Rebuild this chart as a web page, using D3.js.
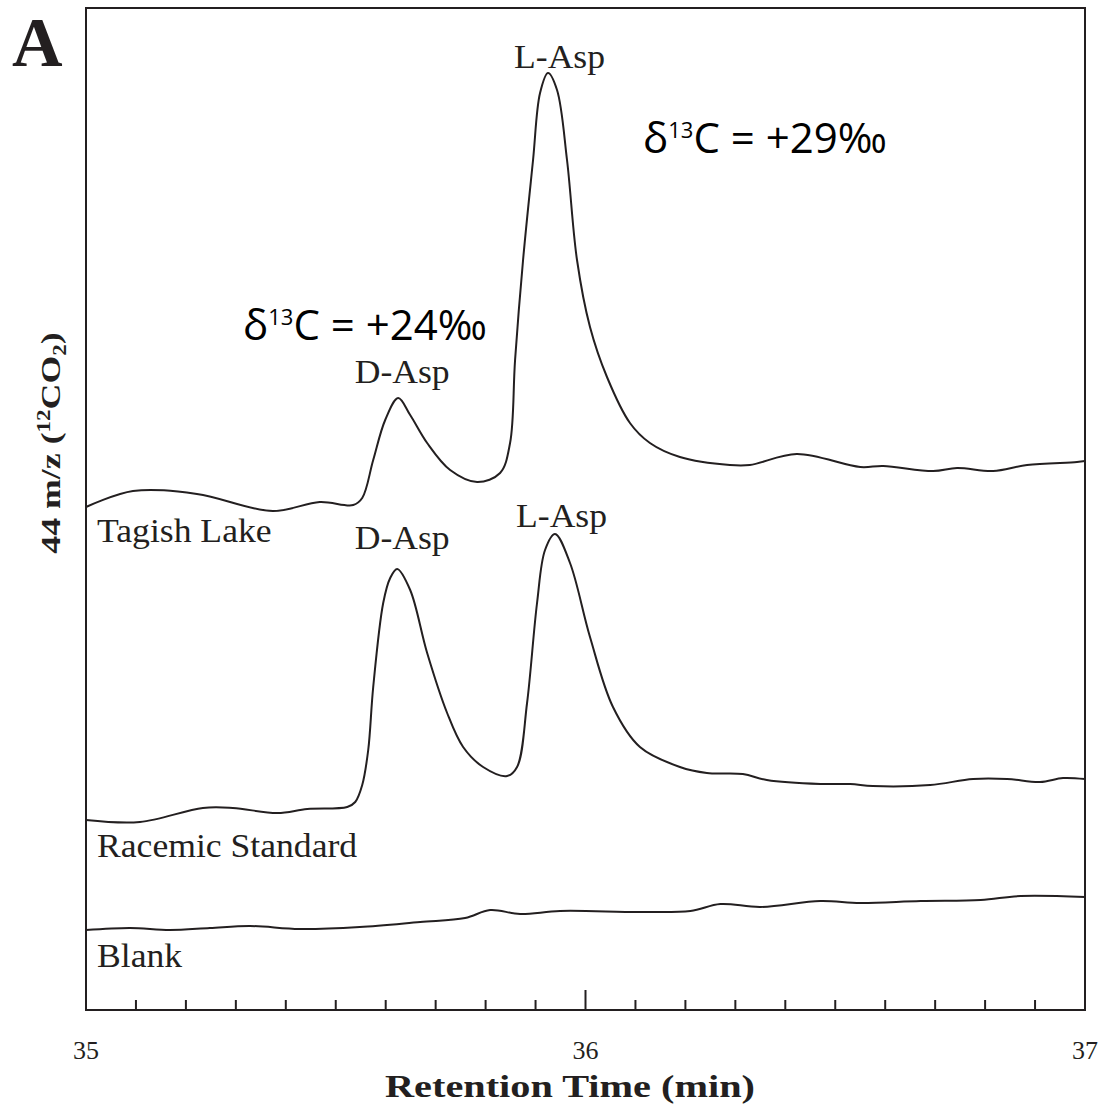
<!DOCTYPE html>
<html>
<head>
<style>
  body { margin: 0; background: #fff; }
</style>
</head>
<body>

<script src="https://d3js.org/d3.v7.min.js"></script>

<script>

const width = 1098;
const height = 1104;

// retention time (min) and detector signal (arbitrary units)
const tagishTime = [35.000, 35.094, 35.222, 35.374, 35.468, 35.535, 35.553, 35.575, 35.599, 35.625,
  35.649, 35.683, 35.729, 35.783, 35.829, 35.849, 35.859, 35.875, 35.895,
  35.909, 35.925, 35.943, 35.963, 35.983, 36.009, 36.043, 36.089, 36.129, 36.189,
  36.289, 36.329, 36.423, 36.550, 36.596, 36.696, 36.744, 36.816, 36.884, 36.984, 37.000];
const tagishSignal = [503, 519, 516, 499, 508, 505, 512, 550, 590, 612,
  595, 567, 540, 528, 537, 567, 650, 750, 850,
  917, 937, 920, 850, 750, 683, 633, 587, 567, 553,
  545, 545, 556, 543, 544, 539, 542, 539, 545, 548, 549];

const racemicTime = [35.000, 35.108, 35.234, 35.294, 35.383, 35.443, 35.523, 35.539, 35.553, 35.565,
  35.575, 35.595, 35.609, 35.623, 35.649, 35.683, 35.723, 35.755, 35.795, 35.843,
  35.863, 35.883, 35.903, 35.919, 35.939, 35.969, 36.009, 36.055, 36.109, 36.189,
  36.243, 36.315, 36.363, 36.470, 36.530, 36.575, 36.690, 36.776, 36.844, 36.910, 36.956, 37.000];
const racemicSignal = [190, 188, 202, 202, 197, 201, 203, 208, 225, 260,
  323, 407, 432, 441, 420, 357, 297, 263, 243, 234,
  243, 307, 407, 460, 476, 447, 373, 303, 263, 243,
  237, 236, 230, 226, 226, 224, 225, 231, 231, 228, 232, 231];

const blankTime = [35.000, 35.088, 35.168, 35.248, 35.328, 35.428, 35.548, 35.669, 35.759, 35.809,
  35.869, 35.949, 36.109, 36.210, 36.270, 36.350, 36.470, 36.550, 36.671, 36.791, 36.871, 37.000];
const blankSignal = [80, 82, 80, 82, 84, 81, 83, 88, 92, 100,
  96, 99, 98, 99, 106, 103, 109, 107, 109, 110, 114, 113];

const xTicks = [35, 36, 37];
const traceLabels = ['Tagish Lake', 'Racemic Standard', 'Blank'];

const ink = '#231f20';
const serif = '"Liberation Serif", "Times New Roman", serif';
const sans = '"Open Sans", "Noto Sans", sans-serif';

const margin = { left: 86, right: 13, top: 8, bottom: 94 };

const x = d3.scaleLinear()
  .domain([35, 37])
  .range([margin.left, width - margin.right]);

const y = d3.scaleLinear()
  .domain([0, 1002])
  .range([height - margin.bottom, margin.top]);

const svg = d3.select('body')
  .append('svg')
  .attr('width', width)
  .attr('height', height);

// the original lettering is wider than Times at the same height, so stretch it
function label(px, py, str, size, sx, opts = {}) {
  const g = svg.append('g')
    .attr('transform', `translate(${px},${py}) rotate(${opts.rotate || 0}) scale(${sx},1)`);
  return g.append('text')
    .attr('text-anchor', opts.anchor || 'start')
    .attr('font-family', serif)
    .attr('font-weight', opts.bold ? 'bold' : 'normal')
    .attr('font-size', size)
    .attr('fill', ink)
    .text(str);
}

// frame
svg.append('rect')
  .attr('x', x(35))
  .attr('y', y(1002))
  .attr('width', x(37) - x(35))
  .attr('height', y(0) - y(1002))
  .attr('fill', 'none')
  .attr('stroke', ink)
  .attr('stroke-width', 2);

// ticks pointing inwards, every 0.1 min, longer at whole minutes
const minor = d3.range(1, 20).map(i => 35 + i / 10);
svg.append('g')
  .selectAll('line')
  .data(minor)
  .enter()
  .append('line')
    .attr('x1', d => x(d))
    .attr('x2', d => x(d))
    .attr('y1', y(0))
    .attr('y2', d => Math.abs(d - 36) < 1e-6 ? y(0) - 20 : y(0) - 10)
    .attr('stroke', ink)
    .attr('stroke-width', 2);

xTicks.forEach(t => label(x(t), 1059, t, 26, 1, { anchor: 'middle' }));

label(570, 1097, 'Retention Time (min)', 31, 1.3, { anchor: 'middle', bold: true });

// y label
const ylab = label(60, 443, '', 28, 1.28, { anchor: 'middle', bold: true, rotate: -90 });
ylab.append('tspan').text('44 m/z  (');
ylab.append('tspan').attr('font-size', 18).attr('dy', -10).text('12');
ylab.append('tspan').attr('dy', 10).text('CO');
ylab.append('tspan').attr('font-size', 18).attr('dy', 6).text('2');
ylab.append('tspan').attr('dy', -6).text(')');

// panel letter
label(12, 66, 'A', 70, 1, { bold: true });

// traces
const line = d3.line()
  .x(d => x(d[0]))
  .y(d => y(d[1]))
  .curve(d3.curveCatmullRom.alpha(0.5));

const traces = [
  d3.zip(tagishTime, tagishSignal),
  d3.zip(racemicTime, racemicSignal),
  d3.zip(blankTime, blankSignal)
];

svg.append('g')
  .selectAll('path')
  .data(traces)
  .enter()
  .append('path')
    .attr('d', line)
    .attr('fill', 'none')
    .attr('stroke', ink)
    .attr('stroke-width', 2);

// trace names
const labelY = [542, 857, 967];
traceLabels.forEach((d, i) => label(97, labelY[i], d, 33, 1.08));

// peak names
const peaks = [
  { name: 'D-Asp', t: 35.633, y: 383 },
  { name: 'L-Asp', t: 35.948, y: 68 },
  { name: 'D-Asp', t: 35.633, y: 549 },
  { name: 'L-Asp', t: 35.952, y: 527 }
];
peaks.forEach(d => label(x(d.t), d.y, d.name, 33, 1.08, { anchor: 'middle' }));

// isotope values
const deltas = [
  { v: '+24‰', x: 243, y: 340 },
  { v: '+29‰', x: 643, y: 153 }
];
deltas.forEach(d => {
  const t = svg.append('text')
    .attr('x', d.x)
    .attr('y', d.y)
    .attr('font-family', sans)
    .attr('font-size', 42)
    .attr('fill', '#000');
  t.append('tspan').text('δ');
  t.append('tspan').attr('font-size', 22).attr('dy', -15).text('13');
  t.append('tspan').attr('dy', 15).text('C = ' + d.v);
});

</script>
</body>
</html>
